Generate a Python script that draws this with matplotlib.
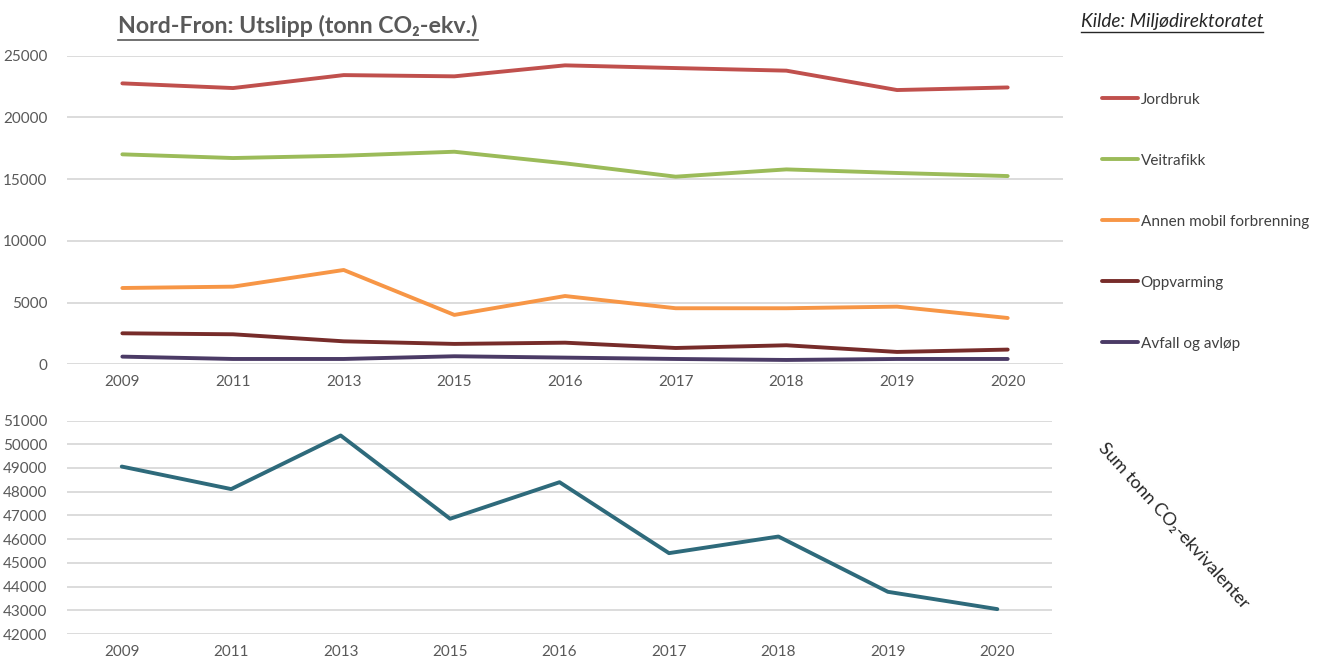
import numpy as np
import matplotlib
matplotlib.use("Agg")
import matplotlib.pyplot as plt

plt.rcParams['font.family'] = ['Lato', 'DejaVu Sans']

# data
years = ["2009", "2011", "2013", "2015", "2016", "2017", "2018", "2019", "2020"]

jordbruk = [22760, 22380, 23430, 23330, 24220, 24000, 23790, 22220, 22430]
veitrafikk = [17010, 16710, 16900, 17220, 16280, 15200, 15790, 15500, 15250]
annen_mobil = [6180, 6290, 7640, 4000, 5530, 4540, 4540, 4670, 3750]
oppvarming = [2510, 2430, 1860, 1650, 1750, 1320, 1540, 1000, 1190]
avfall = [620, 430, 430, 650, 540, 430, 350, 430, 430]

sum_total = [49060, 48110, 50370, 46860, 48400, 45410, 46110, 43780, 43050]

series_names = ["Jordbruk", "Veitrafikk", "Annen mobil forbrenning", "Oppvarming", "Avfall og avløp"]
series_vals = [jordbruk, veitrafikk, annen_mobil, oppvarming, avfall]
colors = ["#C0504D", "#9BBB59", "#F79646", "#772C2A", "#4B3B66"]

tick_col = "#595959"
grid_col = "#D9D9D9"

fig = plt.figure(figsize=(13.22, 6.61), dpi=100)

# =========================
# top chart
# =========================
ax1 = fig.add_axes([0.0507, 0.4489, 0.7534, 0.4668])
x = np.arange(len(years))
for name, vals, c in zip(series_names, series_vals, colors):
    ax1.plot(x, vals, color=c, lw=2.8, label=name, solid_capstyle="round")

ax1.set_xlim(-0.5, len(years) - 0.5)
ax1.set_ylim(0, 25000)
ax1.set_yticks(range(0, 25001, 5000))
ax1.set_xticks(x)
ax1.set_xticklabels(years)

# =========================
# bottom chart
# =========================
ax2 = fig.add_axes([0.0507, 0.0408, 0.7451, 0.3230])
ax2.plot(x, sum_total, color="#2E6A7B", lw=2.8, solid_capstyle="round")
ax2.set_xlim(-0.5, len(years) - 0.5)
ax2.set_ylim(42000, 51000)
ax2.set_yticks(range(42000, 51001, 1000))
ax2.set_xticks(x)
ax2.set_xticklabels(years)

for ax in (ax1, ax2):
    for s in ax.spines.values():
        s.set_visible(False)
    ax.grid(axis="y", color=grid_col, lw=1.3)
    ax.set_axisbelow(True)
    ax.tick_params(length=0, colors=tick_col, labelsize=11)
    ax.tick_params(axis="x", pad=8)
    ax.tick_params(axis="y", pad=14)

# legend
leg = ax1.legend(loc="upper left", bbox_to_anchor=(1.025, 0.925), frameon=False,
                 fontsize=11, handlelength=2.4, handletextpad=0.15,
                 labelspacing=3.08, labelcolor="#404040")

# titles
t = fig.text(0.0893, 0.960, "Nord-Fron: Utslipp (tonn CO₂-ekv.)", fontsize=16.7,
             fontweight="bold", color=tick_col, ha="left", va="center")
fig.canvas.draw()
bb = t.get_window_extent()
inv = fig.transFigure.inverted()
(x0, y0), (x1, y1) = inv.transform([[bb.x0, bb.y0], [bb.x1, bb.y1]])
fig.add_artist(plt.Line2D([x0, x1], [y0 - 0.004, y0 - 0.004], color=tick_col, lw=1.2))

k = fig.text(0.8175, 0.968, "Kilde: Miljødirektoratet", fontsize=13.7, style="italic",
             color="#262626", ha="left", va="center")
fig.canvas.draw()
bb = k.get_window_extent()
(x0, y0), (x1, y1) = inv.transform([[bb.x0, bb.y0], [bb.x1, bb.y1]])
fig.add_artist(plt.Line2D([x0, x1], [y0 - 0.003, y0 - 0.003], color="#262626", lw=1.0))

fig.text(0.888, 0.205, "Sum tonn CO₂-ekvivalenter", fontsize=13, rotation=-48,
         rotation_mode="anchor", color="#262626", ha="center", va="center",
         transform=fig.transFigure)

fig.savefig("out.png", dpi=100)
